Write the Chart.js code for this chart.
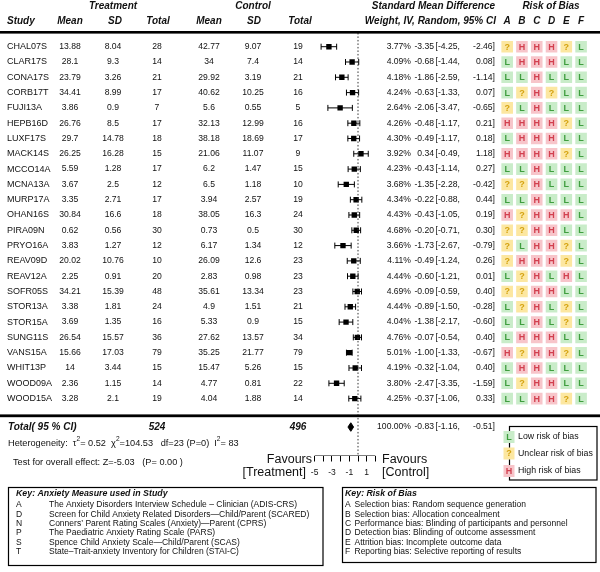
<!DOCTYPE html>
<html>
<head>
<meta charset="utf-8">
<script src="https://cdn.jsdelivr.net/npm/chart.js@4.4.1/dist/chart.umd.min.js"></script>
<style>
body { margin: 0; background: #fff; }
canvas { display: block; }
</style>
</head>
<body>
<canvas id="forestChart" width="600" height="572"></canvas>
<script>
// Data
const studies = ['CHAL07S','CLAR17S','CONA17S','CORB17T','FUJI13A','HEPB16D','LUXF17S','MACK14S','MCCO14A','MCNA13A','MURP17A','OHAN16S','PIRA09N','PRYO16A','REAV09D','REAV12A','SOFR05S','STOR13A','STOR15A','SUNG11S','VANS15A','WHIT13P','WOOD09A','WOOD15A'];
const trtMean = ['13.88','28.1','23.79','34.41','3.86','26.76','29.7','26.25','5.59','3.67','3.35','30.84','0.62','3.83','20.02','2.25','34.21','3.38','3.69','26.54','15.66','14','2.36','3.28'];
const trtSD = ['8.04','9.3','3.26','8.99','0.9','8.5','14.78','16.28','1.28','2.5','2.71','16.6','0.56','1.27','10.76','0.91','15.39','1.81','1.35','15.57','17.03','3.44','1.15','2.1'];
const trtN = [28,14,21,17,7,17,18,15,17,12,17,18,30,12,10,20,48,24,16,36,79,15,14,19];
const ctlMean = ['42.77','34','29.92','40.62','5.6','32.13','38.18','21.06','6.2','6.5','3.94','38.05','0.73','6.17','26.09','2.83','35.61','4.9','5.33','27.62','35.25','15.47','4.77','4.04'];
const ctlSD = ['9.07','7.4','3.19','10.25','0.55','12.99','18.69','11.07','1.47','1.18','2.57','16.3','0.5','1.34','12.6','0.98','13.34','1.51','0.9','13.57','21.77','5.26','0.81','1.88'];
const ctlN = [19,14,21,16,5,16,17,9,15,10,19,24,30,12,23,23,23,21,15,34,79,15,22,14];
const weights = ['3.77','4.09','4.18','4.24','2.64','4.26','4.30','3.92','4.23','3.68','4.34','4.43','4.68','3.66','4.11','4.44','4.69','4.44','4.04','4.76','5.01','4.19','3.80','4.25'];
const smd = [-3.35,-0.68,-1.86,-0.63,-2.06,-0.48,-0.49,0.34,-0.43,-1.35,-0.22,-0.43,-0.20,-1.73,-0.49,-0.60,-0.09,-0.89,-1.38,-0.07,-1.00,-0.32,-2.47,-0.37];
const lo = [-4.25,-1.44,-2.59,-1.33,-3.47,-1.17,-1.17,-0.49,-1.14,-2.28,-0.88,-1.05,-0.71,-2.67,-1.24,-1.21,-0.59,-1.50,-2.17,-0.54,-1.33,-1.04,-3.35,-1.06];
const hi = [-2.46,0.08,-1.14,0.07,-0.65,0.21,0.18,1.18,0.27,-0.42,0.44,0.19,0.30,-0.79,0.26,0.01,0.40,-0.28,-0.60,0.40,-0.67,0.40,-1.59,0.33];
// risk of bias, columns A-F
const robCols = ['A','B','C','D','E','F'];
const rob = ['?HHH?L','LHHHLL','LLHLLL','L?H?LL','?LHLLL','HHHH?L','LHHHLL','HHHH?L','LLHLLL','??HLLL','LLHLLL','H?HHHL','??HHLL','?LHH?L','?HHH?L','L?HLHL','??HHLL','L?HL?L','LLHL?L','LHHHLL','H?HH?L','LHHLLL','L?HHLL','LLHH?L'];
const totalTrt = 524, totalCtl = 496;
const totalSmd = [-0.83, -1.16, -0.51];
const axisTicks = [-5,-4,-3,-2,-1,0,1,2];

const measureKey = [
  ['A','The Anxiety Disorders Interview Schedule \u2013 Clinician (ADIS-CRS)'],
  ['D','Screen for Child Anxiety Related Disorders\u2014Child/Parent (SCARED)'],
  ['N','Conners\u2019 Parent Rating Scales (Anxiety)\u2014Parent (CPRS)'],
  ['P','The Paediatric Anxiety Rating Scale (PARS)'],
  ['S','Spence Child Anxiety Scale\u2014Child/Parent (SCAS)'],
  ['T','State\u2013Trait-anxiety Inventory for Children (STAI-C)']
];
const biasKey = [
  ['A','Selection bias: Random sequence generation'],
  ['B','Selection bias: Allocation concealment'],
  ['C','Performance bias: Blinding of participants and personnel'],
  ['D','Detection bias: Blinding of outcome assessment'],
  ['E','Attrition bias: Incomplete outcome data'],
  ['F','Reporting bias: Selective reporting of results']
];

const FONT = '"Liberation Sans", Arial, Helvetica, sans-serif';
const NUM = '8.6px ' + FONT;
const cellBg = { 'L': '#c9ecc9', '?': '#fce7a1', 'H': '#f7c5ca' };
const cellFg = { 'L': '#3f9e3f', '?': '#d4a20f', 'H': '#d2404f' };

const TOTAL_ROW = 24.86;
const AXIS_ROW = 26.72;

// build datasets
var ciLines = [], ciCaps = [], markers = [], robCells = [];
for (let i = 0; i < studies.length; i++) {
  ciLines.push({x: lo[i], y: i}, {x: hi[i], y: i}, {x: hi[i], y: null});
  ciCaps.push({x: lo[i], y: i}, {x: hi[i], y: i});
  markers.push({x: smd[i], y: i});
  for (let j = 0; j < robCols.length; j++) {
    robCells.push({x: j, y: i, v: rob[i][j]});
  }
}
var diamond = [
  {x: totalSmd[1], y: TOTAL_ROW},
  {x: totalSmd[0], y: TOTAL_ROW - 0.28},
  {x: totalSmd[2], y: TOTAL_ROW},
  {x: totalSmd[0], y: TOTAL_ROW + 0.28},
  {x: totalSmd[1], y: TOTAL_ROW}
];

function txt(ctx, s, x, y, align, font) {
  ctx.font = font || ('9px ' + FONT);
  ctx.textAlign = align || 'left';
  ctx.textBaseline = 'middle';
  ctx.fillText(s, x, y);
}

// draw a run of text pieces left to right; pieces starting with ^ are superscripts
function run(ctx, parts, x, y, size) {
  parts.forEach(function(p) {
    const isSup = p.charAt(0) === '^';
    const s = isSup ? p.slice(1) : p;
    const f = (isSup ? size * 0.72 : size) + 'px ' + FONT;
    txt(ctx, s, x, isSup ? y - 4 : y, 'left', f);
    x += ctx.measureText(s).width;
  });
}

function cell(ctx, v, x, y) {
  ctx.fillStyle = cellBg[v];
  ctx.fillRect(x - 5.5, y - 6, 11, 12);
  ctx.fillStyle = cellFg[v];
  txt(ctx, v, x, y + 0.5, 'center', 'bold 9px ' + FONT);
}

const tablePlugin = {
  id: 'tableText',
  afterDatasetsDraw(chart) {
    // letters on the risk of bias cells
    const ctx = chart.ctx;
    const meta = chart.getDatasetMeta(6);
    ctx.save();
    meta.data.forEach(function(pt, k) {
      const v = robCells[k].v;
      ctx.fillStyle = cellFg[v];
      txt(ctx, v, pt.x, pt.y + 0.5, 'center', 'bold 9px ' + FONT);
    });
    ctx.restore();
  },
  afterDraw(chart) {
    const ctx = chart.ctx;
    const yS = chart.scales.y;
    const xr = chart.scales.xr;
    const bi = 'italic bold 10px ' + FONT;
    ctx.save();
    ctx.fillStyle = '#111';

    // header
    txt(ctx, 'Treatment', 113, 6, 'center', bi);
    txt(ctx, 'Control', 253, 6, 'center', bi);
    txt(ctx, 'Standard Mean Difference', 495, 6, 'right', bi);
    txt(ctx, 'Risk of Bias', 551, 6, 'center', bi);
    txt(ctx, 'Study', 7, 21, 'left', bi);
    txt(ctx, 'Mean', 70, 21, 'center', bi);
    txt(ctx, 'SD', 115, 21, 'center', bi);
    txt(ctx, 'Total', 158, 21, 'center', bi);
    txt(ctx, 'Mean', 209, 21, 'center', bi);
    txt(ctx, 'SD', 254, 21, 'center', bi);
    txt(ctx, 'Total', 300, 21, 'center', bi);
    txt(ctx, 'Weight, IV, Random, 95% CI', 496, 21, 'right', bi);
    robCols.forEach(function(c, j) {
      txt(ctx, c, xr.getPixelForValue(j), 21, 'center', bi);
    });

    ctx.fillStyle = '#000';
    ctx.fillRect(0, 31, 600, 2.6);
    ctx.fillRect(0, 414.4, 600, 2.8);

    // study rows
    ctx.fillStyle = '#111';
    for (let i = 0; i < studies.length; i++) {
      const y = yS.getPixelForValue(i);
      txt(ctx, studies[i], 7, y, 'left');
      txt(ctx, trtMean[i], 70, y, 'center', NUM);
      txt(ctx, trtSD[i], 113, y, 'center', NUM);
      txt(ctx, String(trtN[i]), 157, y, 'center', NUM);
      txt(ctx, ctlMean[i], 209, y, 'center', NUM);
      txt(ctx, ctlSD[i], 253, y, 'center', NUM);
      txt(ctx, String(ctlN[i]), 298, y, 'center', NUM);
      txt(ctx, weights[i] + '%', 411, y, 'right', NUM);
      txt(ctx, smd[i].toFixed(2), 434, y, 'right', NUM);
      txt(ctx, '[' + lo[i].toFixed(2) + ',', 435.5, y, 'left', NUM);
      txt(ctx, hi[i].toFixed(2) + ']', 495, y, 'right', NUM);
    }

    // total row
    const yt = yS.getPixelForValue(TOTAL_ROW);
    txt(ctx, 'Total( 95 % CI)', 8, yt, 'left', bi);
    txt(ctx, String(totalTrt), 157, yt, 'center', bi);
    txt(ctx, String(totalCtl), 298, yt, 'center', bi);
    txt(ctx, '100.00%', 411, yt, 'right', NUM);
    txt(ctx, totalSmd[0].toFixed(2), 434, yt, 'right', NUM);
    txt(ctx, '[' + totalSmd[1].toFixed(2) + ',', 435.5, yt, 'left', NUM);
    txt(ctx, totalSmd[2].toFixed(2) + ']', 495, yt, 'right', NUM);

    // heterogeneity and overall effect
    run(ctx, ['Heterogeneity:  \u03c4', '^2', '= 0.52  \u03c7', '^2', '=104.53   df=23 (P=0)  I', '^2', '= 83'], 8, 443, 9.2);
    run(ctx, ['Test for overall effect: Z=-5.03   (P= 0.00 )'], 13, 462, 9.2);

    // favours labels
    const fav = '12.5px ' + FONT;
    txt(ctx, 'Favours', 312, 460, 'right', fav);
    txt(ctx, '[Treatment]', 306, 473, 'right', fav);
    txt(ctx, 'Favours', 382, 460, 'left', fav);
    txt(ctx, '[Control]', 382, 473, 'left', fav);

    // risk legend box
    ctx.strokeStyle = '#000';
    ctx.lineWidth = 1.2;
    ctx.strokeRect(509.5, 426.5, 87.5, 53.5);
    const leg = [['L','Low risk of bias', 437], ['?','Unclear risk of bias', 453.5], ['H','High risk of bias', 471]];
    leg.forEach(function(l) {
      cell(ctx, l[0], 509, l[2]);
      ctx.fillStyle = '#111';
      txt(ctx, l[1], 518, l[2], 'left', '8.8px ' + FONT);
    });

    // key boxes
    const kf = '8.5px ' + FONT;
    ctx.strokeRect(8.5, 487.5, 314.5, 78);
    ctx.strokeRect(342.5, 487.5, 253.5, 75);
    ctx.fillStyle = '#111';
    txt(ctx, 'Key: Anxiety Measure used in Study', 16, 494, 'left', 'italic bold 8.8px ' + FONT);
    measureKey.forEach(function(k, i) {
      const y = 505 + i * 9.3;
      txt(ctx, k[0], 16, y, 'left', kf);
      txt(ctx, k[1], 49, y, 'left', kf);
    });
    txt(ctx, 'Key: Risk of Bias', 345, 494, 'left', 'italic bold 8.8px ' + FONT);
    biasKey.forEach(function(k, i) {
      const y = 505 + i * 9.3;
      txt(ctx, k[0], 345, y, 'left', kf);
      txt(ctx, k[1], 354.5, y, 'left', kf);
    });
    ctx.restore();
  }
};

const ctx = document.getElementById('forestChart').getContext('2d');

const forest_chart = new Chart(ctx, {
  type: 'scatter',
  data: {
    datasets: [
      {
        type: 'line',
        data: [{x: 0, y: -0.9}, {x: 0, y: AXIS_ROW}],
        borderColor: '#333',
        borderWidth: 1,
        borderDash: [1.5, 2],
        pointRadius: 0
      },
      {
        type: 'line',
        data: ciLines,
        borderColor: '#000',
        borderWidth: 1,
        pointRadius: 0,
        spanGaps: false
      },
      {
        data: ciCaps,
        pointStyle: 'line',
        rotation: 90,
        radius: 3,
        borderColor: '#000',
        borderWidth: 1
      },
      {
        data: markers,
        pointStyle: 'rect',
        radius: 3.8,
        backgroundColor: '#000',
        borderWidth: 0
      },
      {
        type: 'line',
        data: diamond,
        borderColor: '#000',
        backgroundColor: '#000',
        borderWidth: 1,
        fill: 'shape',
        pointRadius: 0,
        tension: 0
      },
      {
        type: 'line',
        data: [{x: -5, y: AXIS_ROW}, {x: 2, y: AXIS_ROW}],
        borderColor: '#000',
        borderWidth: 1,
        pointRadius: 0
      },
      {
        data: robCells,
        xAxisID: 'xr',
        pointStyle: 'rect',
        radius: 8.2,
        borderWidth: 0,
        backgroundColor: c => cellBg[c.raw.v]
      }
    ]
  },
  options: {
    responsive: false,
    animation: false,
    events: [],
    layout: { padding: { top: 31.4, bottom: 96.5, left: 0, right: 0 } },
    plugins: { legend: { display: false }, tooltip: { enabled: false } },
    scales: {
      x: {
        type: 'linear',
        min: -40.28,
        max: 26.92,
        afterBuildTicks: s => { s.ticks = axisTicks.map(v => ({ value: v })); },
        afterFit: s => { s.height = 20; },
        border: { display: false },
        grid: { drawOnChartArea: false, drawTicks: true, tickLength: 6, color: '#000', lineWidth: 1 },
        ticks: {
          autoSkip: false,
          maxRotation: 0,
          padding: 6,
          color: '#111',
          font: { family: FONT, size: 8.5 },
          callback: v => (v % 2 !== 0 ? String(v) : '')
        }
      },
      xr: {
        type: 'linear',
        display: false,
        min: -33.75,
        max: 5.724
      },
      y: {
        type: 'linear',
        display: false,
        reverse: true,
        min: -1,
        max: AXIS_ROW
      }
    }
  },
  plugins: [tablePlugin]
});
</script>
</body>
</html>
